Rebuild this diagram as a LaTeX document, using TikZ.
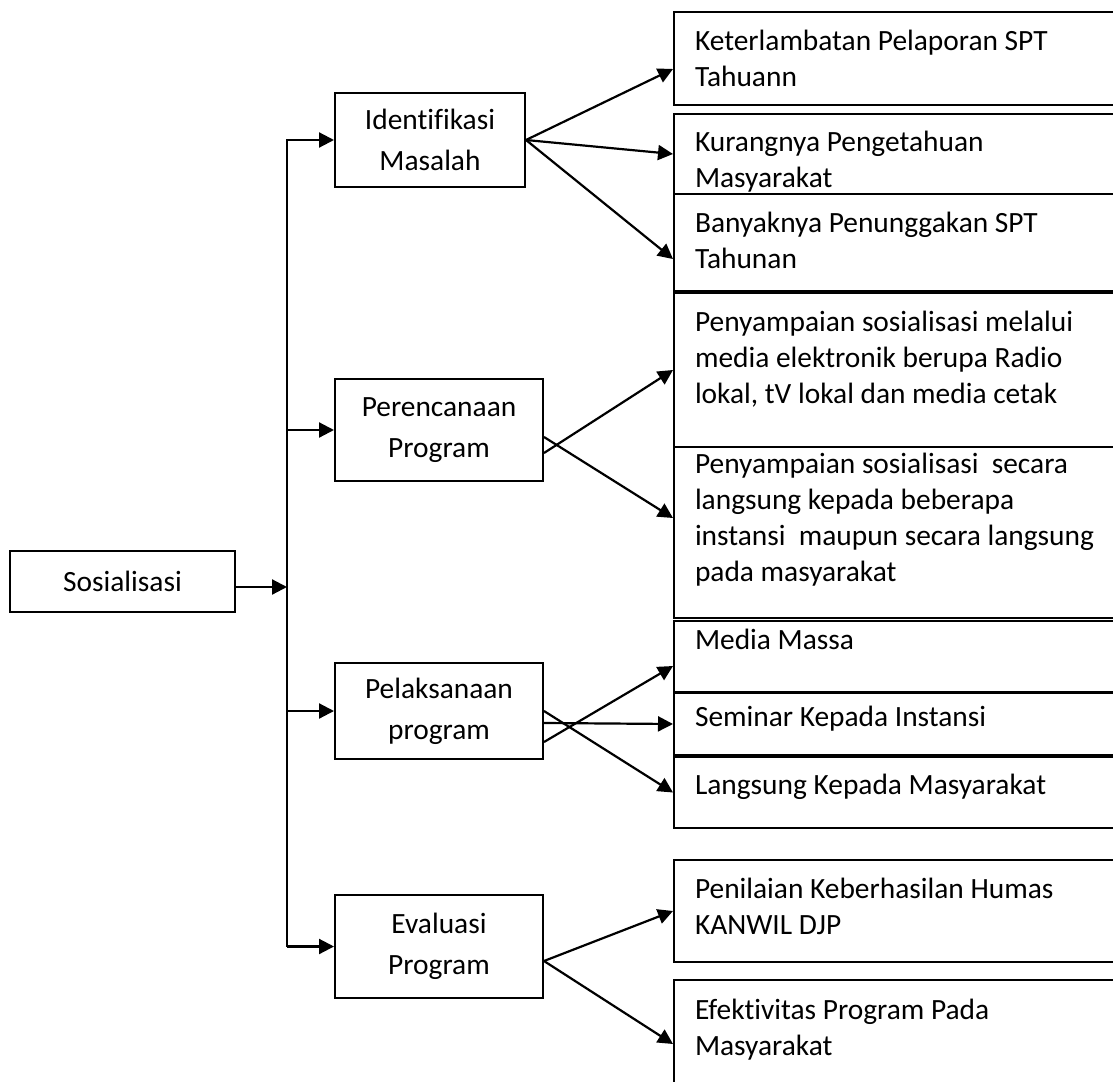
\documentclass[tikz,border=0pt]{standalone}
\usepackage{fontspec}
\setmainfont{Carlito}[Ligatures=NoCommon]
\usetikzlibrary{arrows.meta}

\begin{document}
\begin{tikzpicture}[x=0.5pt, y=-0.5pt,
            box/.style={draw, line width=1pt, fill=white, align=flush center, inner sep=0pt, font=\fontsize{14.7}{20.5}\selectfont},
            leaf/.style 2 args={draw, line width=1pt, fill=white, anchor=north west, text width=209pt, align=flush left, inner xsep=10.5pt, inner ysep=0pt, text height=#1, text depth=#2, font=\fontsize{14.7}{18}\selectfont},
            arr/.style={line width=1.1pt, -{Triangle[length=7.5pt,width=7.5pt]}}]
            \useasboundingbox (0,0) rectangle (1113,1081);
            \clip (0,0) rectangle (1113,1081);
            \node[box, minimum width=112.5pt, minimum height=30.5pt] (sos) at (122.5,581.5) {Sosialisasi};
            \node[box, minimum width=95pt, minimum height=47pt] (ident) at (430,140) {Identifikasi\\Masalah};
            \node[box, minimum width=104pt, minimum height=51pt] (renc) at (439,430) {Perencanaan\\Program};
            \node[box, minimum width=104pt, minimum height=48pt] (laks) at (439,711) {Pelaksanaan\\program};
            \node[box, minimum width=104pt, minimum height=51.5pt] (eval) at (439,946.5) {Evaluasi\\Program};
            \node[leaf={19.5pt}{27pt}] (r1) at (673,11) {Keterlambatan Pelaporan SPT\\Tahuann};
            \node[leaf={18.5pt}{29.5pt}] (r2) at (673,113) {Kurangnya Pengetahuan\\Masyarakat};
            \node[leaf={19pt}{29.5pt}] (r3) at (673,193) {Banyaknya Penunggakan SPT\\Tahunan};
            \node[leaf={19pt}{58pt}] (r4) at (673,292) {Penyampaian sosialisasi melalui\\media elektronik berupa Radio\\lokal, tV lokal dan media cetak};
            \node[leaf={13pt}{72.5pt}] (r5) at (673,446) {Penyampaian sosialisasi\ \ secara\\langsung kepada beberapa\\instansi\ \ maupun secara langsung\\pada masyarakat};
            \node[leaf={14pt}{21.5pt}] (r6) at (673,620) {Media Massa};
            \node[leaf={16.5pt}{14.5pt}] (r7) at (673,692) {Seminar Kepada Instansi};
            \node[leaf={18.5pt}{17pt}] (r8) at (673,756) {Langsung Kepada Masyarakat};
            \node[leaf={19pt}{32pt}] (r9) at (673,859) {Penilaian Keberhasilan Humas\\KANWIL DJP};
            \node[leaf={19.5pt}{44.5pt}] (r10) at (673,979) {Efektivitas Program Pada\\Masyarakat};
            \coordinate (trunk) at (287,0);
            \coordinate (sosout) at ([yshift=-2.75pt]sos.east);
            \draw[arr] (trunk |- eval.west) -- (trunk |- ident.west) -- (ident.west);
            \draw[arr] (sosout) -- (trunk |- sosout);
            \foreach \n in {renc,laks,eval}{
                \draw[arr] (trunk |- \n.west) -- (\n.west);
            }
            \draw[arr] (ident.east) -- ([yshift=-5.25pt]r1.west);
            \draw[arr] (ident.east) -- ([yshift=4pt]r2.west);
            \draw[arr] (ident.east) -- ([yshift=-8.25pt]r3.west);
            \draw[arr] ([yshift=-11.5pt]renc.east) -- (r4.west);
            \draw[arr] ([yshift=-3.5pt]renc.east) -- ([yshift=7.25pt]r5.west);
            \draw[arr] ([yshift=-15.5pt]laks.east) -- ([yshift=-4.75pt]r6.west);
            \draw[arr] ([yshift=-6pt]laks.east) -- (r7.west);
            \draw[arr] (laks.east) -- (r8.west);
            \draw[arr] ([yshift=-7.25pt]eval.east) -- (r9.west);
            \draw[arr] ([yshift=-7.25pt]eval.east) -- (r10.west);
        \end{tikzpicture}
\end{document}
